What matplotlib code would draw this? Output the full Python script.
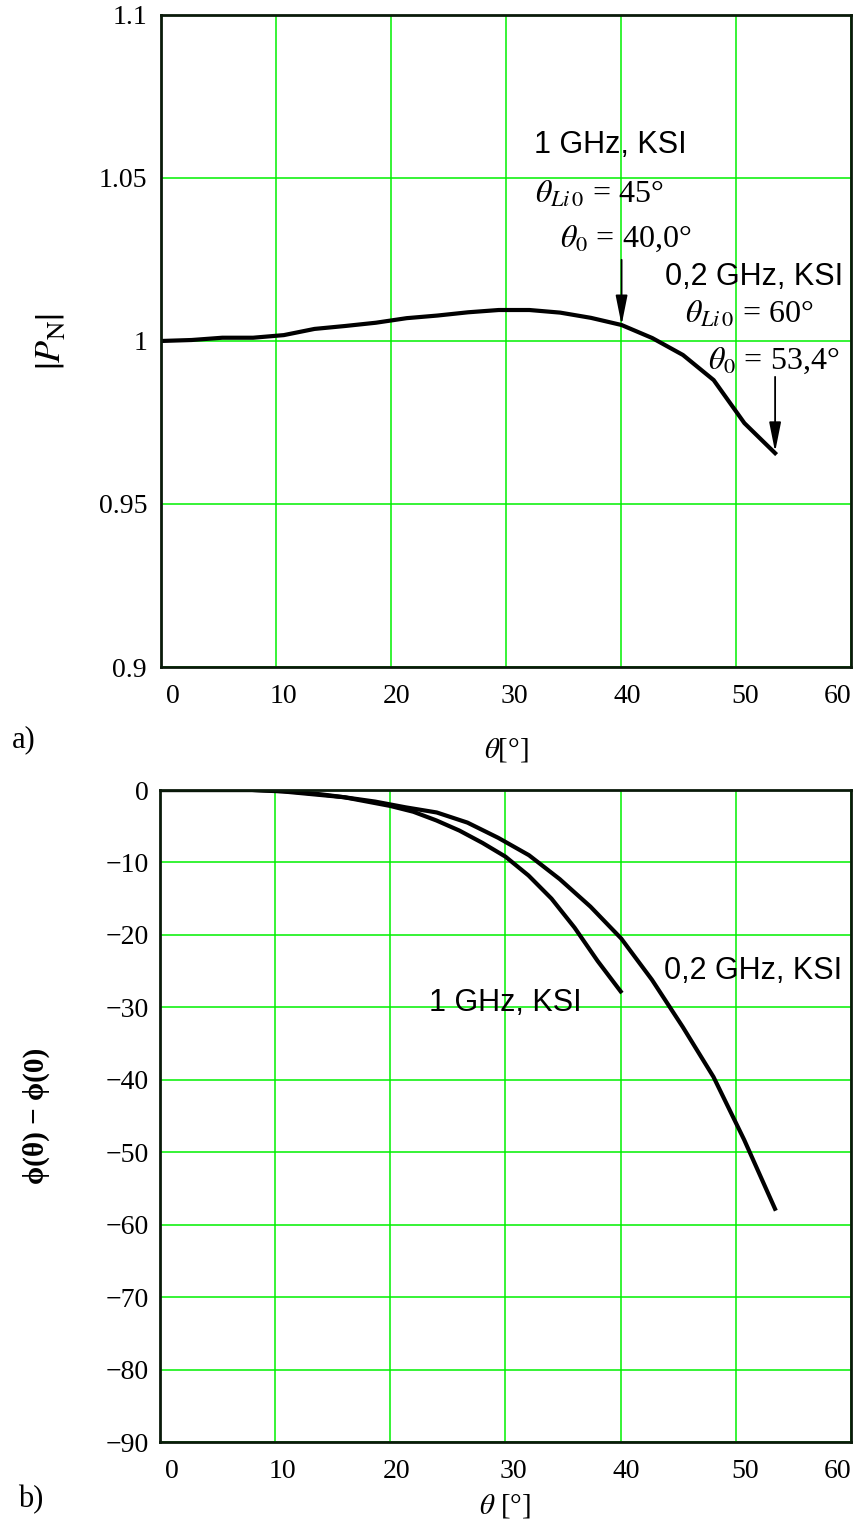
import numpy as np
import matplotlib
matplotlib.use('Agg')
import matplotlib.pyplot as plt
from matplotlib.transforms import ScaledTranslation

plt.rcParams['font.family'] = ['Liberation Serif', 'DejaVu Serif']
plt.rcParams['mathtext.fontset'] = 'stix'

# panel a) |P_N| versus theta (0.2 GHz, KSI)
theta_a = [0, 2.67, 5.34, 8.01, 10.68, 13.35, 16.02, 18.69, 21.36, 24.03, 26.7,
           29.37, 32.04, 34.71, 37.38, 40.05, 42.72, 45.39, 48.06, 50.73, 53.4]
pn_a = [1.0000, 1.0003, 1.0010, 1.0010, 1.0018, 1.0037, 1.0046, 1.0056, 1.0070, 1.0078, 1.0088,
        1.0095, 1.0095, 1.0087, 1.0071, 1.0049, 1.0009, 0.9957, 0.9880, 0.9748, 0.9656]

# panel b) phase difference
theta_1g = [0, 2, 4, 6, 8, 10, 12, 14, 16, 18, 20, 22, 24, 26, 28, 30, 32, 34, 36, 38, 40]
phi_1g = [0, 0, 0, 0, 0, -0.1, -0.3, -0.6, -1.0, -1.6, -2.2, -3.0, -4.2, -5.6, -7.3,
          -9.2, -11.8, -15.0, -19.0, -23.6, -27.8]
theta_02g = theta_a
phi_02g = [0, 0, 0, 0, -0.2, -0.6, -1.0, -1.6, -2.4, -3.1, -4.5, -6.6, -9.0, -12.3,
           -16.1, -20.5, -26.2, -32.7, -39.6, -48.3, -57.8]

xticks = [0, 10, 20, 30, 40, 50, 60]
yticks_a = [0.9, 0.95, 1, 1.05, 1.1]
ytick_labels_a = ['0.9', '0.95', '1', '1.05', '1.1']
yticks_b = list(range(-90, 1, 10))

green = '#00f000'
tfs = 20
sans = ['Liberation Sans', 'DejaVu Sans']

fig = plt.figure(figsize=(8.59, 15.26), dpi=100)
ax1 = fig.add_axes([0.1874, 0.5629, 0.8033, 0.4273])
ax2 = fig.add_axes([0.1862, 0.0550, 0.8045, 0.4273])

# x tick labels sit a bit inside the ends, like the original
shift = [12, 7, 6, 8, 6, 9, -13]

for ax in (ax1, ax2):
    ax.set_xlim(0, 60)
    ax.set_xticks(xticks)
    ax.grid(True, color=green, lw=1.1)
    ax.set_axisbelow(True)
    ax.tick_params(length=0, labelsize=tfs, pad=12)
    for s in ax.spines.values():
        s.set_linewidth(2)
        s.set_color('#0a1a0a')
    for lab, dx in zip(ax.get_xticklabels(), shift):
        lab.set_transform(lab.get_transform() + ScaledTranslation(dx / 100, 0, fig.dpi_scale_trans))

# --- a)
ax1.plot(theta_a, pn_a, color='k', lw=3)
ax1.set_ylim(0.9, 1.1)
ax1.set_yticks(yticks_a)
ax1.set_yticklabels(ytick_labels_a)
ax1.tick_params(axis='y', pad=10)

ax1.text(32.4, 1.0602, '1 GHz, KSI', family=sans, fontsize=22, va='center')
ax1.text(32.5, 1.0450, r'$\theta_{Li\,0}$ = 45°', fontsize=23, va='center')
ax1.text(34.7, 1.0312, r'$\theta_0$ = 40,0°', fontsize=23, va='center')
ax1.text(43.8, 1.0196, '0,2 GHz, KSI', family=sans, fontsize=22, va='center')
ax1.text(45.6, 1.0082, r'$\theta_{Li\,0}$ = 60°', fontsize=23, va='center')
ax1.text(47.6, 0.9938, r'$\theta_0$ = 53,4°', fontsize=23, va='center')

arrow = dict(arrowstyle='-|>,head_length=1.0,head_width=0.2', color='k', lw=1.3,
             shrinkA=0, shrinkB=0, mutation_scale=18)
ax1.annotate('', xy=(40.05, 1.0049), xytext=(40.05, 1.0249), arrowprops=arrow)
ax1.annotate('', xy=(53.4, 0.9660), xytext=(53.4, 0.9890), arrowprops=arrow)

ax1.set_xlabel(r'$\theta$[°]', fontsize=21, labelpad=20)
ax1.set_ylabel(r'$\left|P_{\mathrm{N}}\right|$', fontsize=26, labelpad=22)

# --- b)
ax2.plot(theta_02g, phi_02g, color='k', lw=3)
ax2.plot(theta_1g, phi_1g, color='k', lw=3)
ax2.set_ylim(-90, 0)
ax2.set_yticks(yticks_b)
ax2.tick_params(axis='y', pad=8)

ax2.text(43.75, -25.0, '0,2 GHz, KSI', family=sans, fontsize=22, va='center')
ax2.text(23.35, -29.4, '1 GHz, KSI', family=sans, fontsize=22, va='center')

ax2.set_xlabel(r'$\theta$ [°]', fontsize=21, labelpad=6)
ax2.set_ylabel('ϕ(θ) − ϕ(0)', fontsize=21, fontweight='bold', labelpad=40)

fig.text(0.014, 0.515, 'a)', fontsize=22, va='center')
fig.text(0.021, 0.017, 'b)', fontsize=22, va='center')

fig.savefig('out.png', dpi=100)
